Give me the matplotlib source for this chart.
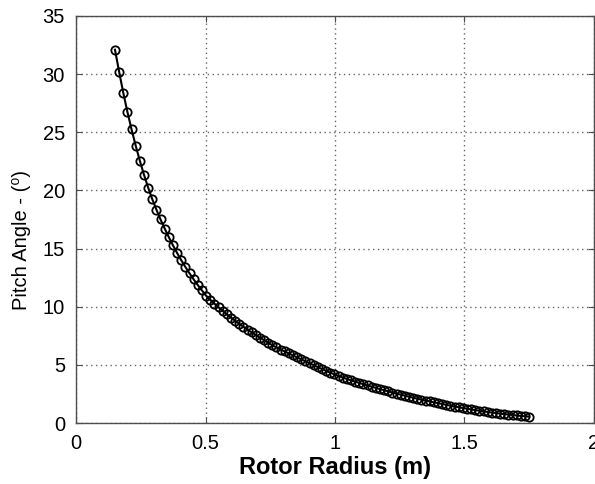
import matplotlib
matplotlib.use("Agg")
import matplotlib.pyplot as plt

plt.rcParams["font.family"] = ["Liberation Sans", "DejaVu Sans"]

# blade stations along the rotor radius (m)
radius = [
    0.150, 0.166, 0.182, 0.198, 0.214, 0.230, 0.246, 0.262, 0.278, 0.294,
    0.310, 0.326, 0.342, 0.358, 0.374, 0.390, 0.406, 0.422, 0.438, 0.454,
    0.470, 0.486, 0.502, 0.518, 0.534, 0.550, 0.566, 0.582, 0.598, 0.614,
    0.630, 0.646, 0.662, 0.678, 0.694, 0.710, 0.726, 0.742, 0.758, 0.774,
    0.790, 0.806, 0.822, 0.838, 0.854, 0.870, 0.886, 0.902, 0.918, 0.934,
    0.950, 0.966, 0.982, 0.998, 1.014, 1.030, 1.046, 1.062, 1.078, 1.094,
    1.110, 1.126, 1.142, 1.158, 1.174, 1.190, 1.206, 1.222, 1.238, 1.254,
    1.270, 1.286, 1.302, 1.318, 1.334, 1.350, 1.366, 1.382, 1.398, 1.414,
    1.430, 1.446, 1.462, 1.478, 1.494, 1.510, 1.526, 1.542, 1.558, 1.574,
    1.590, 1.606, 1.622, 1.638, 1.654, 1.670, 1.686, 1.702, 1.718, 1.734,
    1.750,
]

# pitch angle at each station (deg)
pitch = [
    32.10, 30.20, 28.40, 26.75, 25.25, 23.85, 22.55, 21.35, 20.25, 19.25,
    18.35, 17.50, 16.72, 15.98, 15.28, 14.62, 14.00, 13.42, 12.87, 12.35,
    11.86, 11.40, 10.95, 10.60, 10.27, 9.95, 9.65, 9.35, 9.07, 8.79,
    8.53, 8.28, 8.03, 7.80, 7.57, 7.34, 7.12, 6.90, 6.68, 6.50,
    6.32, 6.15, 5.98, 5.81, 5.64, 5.47, 5.31, 5.14, 4.97, 4.80,
    4.64, 4.48, 4.33, 4.18, 4.04, 3.91, 3.79, 3.67, 3.56, 3.45,
    3.33, 3.23, 3.12, 3.02, 2.91, 2.82, 2.72, 2.62, 2.53, 2.44,
    2.35, 2.26, 2.18, 2.09, 2.01, 1.93, 1.86, 1.78, 1.71, 1.64,
    1.56, 1.49, 1.42, 1.36, 1.29, 1.23, 1.17, 1.11, 1.06, 1.00,
    0.95, 0.90, 0.86, 0.81, 0.77, 0.73, 0.69, 0.65, 0.61, 0.58,
    0.55,
]

x_ticks = [0, 0.5, 1, 1.5, 2]
x_tick_labels = ["0", "0.5", "1", "1.5", "2"]
y_ticks = [0, 5, 10, 15, 20, 25, 30, 35]

fig = plt.figure(figsize=(5.95, 4.84), dpi=100)
ax = fig.add_axes([0.128, 0.126, 0.870, 0.841])

ax.plot(radius, pitch, color="black", linewidth=1.5, marker="o",
        markersize=6, markerfacecolor="none", markeredgecolor="black",
        markeredgewidth=1.3)

ax.set_xlim(0, 2)
ax.set_ylim(0, 35)
ax.set_xticks(x_ticks)
ax.set_xticklabels(x_tick_labels)
ax.set_yticks(y_ticks)

ax.grid(True, linestyle=(0, (1, 2.5)), color="0.4", linewidth=1.0)
ax.tick_params(direction="in", top=True, right=True, length=4,
               labelsize=14.5, pad=8, color="0.3")
for spine in ax.spines.values():
    spine.set_color("0.3")
    spine.set_linewidth(1.0)

ax.set_xlabel("Rotor Radius (m)", fontsize=17, fontweight="bold", labelpad=2)
ax.set_ylabel("Pitch Angle - (\u2070)", fontsize=14.5)
ax.yaxis.set_label_coords(-0.088, 0.45)

fig.savefig("out.png", dpi=100)
